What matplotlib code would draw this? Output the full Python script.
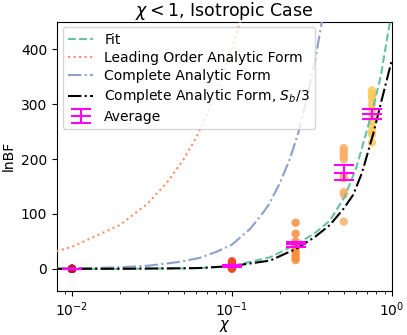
import matplotlib
matplotlib.use("Agg")
import matplotlib.pyplot as plt

# ---------------------------------------------------------------------------
# Data
# ---------------------------------------------------------------------------
chi_groups = [0.01, 0.1, 0.25, 0.5, 0.75]
group_colors = ["#c8103c", "#f0462a", "#f98e3c", "#fbae68", "#fdc95a"]
lnbf_samples = [
    [0.0, 0.0, 0.0, 0.0, 0.0, 0.0, 0.0, 0.0, 0.0, 0.0],
    [0.0, 1.0, 2.0, 3.0, 4.0, 6.0, 8.0, 10.0, 12.0, 14.0],
    [84, 64, 50, 45, 40, 35, 30, 25, 20, 16],
    [220, 215, 210, 205, 200, 170, 165, 140, 135, 86],
    [325, 320, 315, 310, 300, 290, 280, 270, 260, 250, 245, 230],
]
avg_lnbf = [0.0, 5.5, 44.5, 175.0, 282.0]
avg_err = [0.3, 1.5, 4.5, 14.0, 8.5]

fit_chi = [0.008, 0.02, 0.05, 0.063, 0.1, 0.173, 0.254, 0.33, 0.41, 0.508,
           0.6, 0.688, 0.75, 0.85, 0.972, 1.0]
fit_lnbf = [0.0, 0.1, 0.8, 1.3, 5, 21, 45, 65, 88, 132, 185, 246, 285, 350,
            450, 475]

lo_chi = [0.008, 0.01, 0.02, 0.03, 0.04, 0.05, 0.06, 0.08, 0.1, 0.115]
lo_lnbf = [32, 40, 80, 120, 160, 200, 240, 320, 400, 460]

ca_chi = [0.008, 0.01, 0.014, 0.02, 0.03, 0.047, 0.063, 0.08, 0.1, 0.129,
          0.15, 0.17, 0.2, 0.23, 0.26, 0.293, 0.33, 0.375]
ca_lnbf = [0.5, 0.8, 1.5, 2.8, 5.7, 12.6, 20, 31, 44, 72, 95, 117, 157, 200,
           248, 310, 378, 470]

sb3_chi = [0.008, 0.02, 0.05, 0.063, 0.1, 0.173, 0.254, 0.33, 0.41, 0.5,
           0.573, 0.65, 0.764, 0.85, 1.0]
sb3_lnbf = [0.0, 0.1, 1.0, 1.5, 5, 15, 37, 58, 80, 110, 135, 175, 246, 300,
            381]

# ---------------------------------------------------------------------------
# Plot
# ---------------------------------------------------------------------------
fig = plt.figure(figsize=(4.07, 3.35), dpi=100)
ax = fig.add_axes([0.140, 0.132, 0.823, 0.803])

for c, vals, col in zip(chi_groups, lnbf_samples, group_colors):
    ax.scatter([c] * len(vals), vals, s=36, color=col, alpha=0.85,
               edgecolors="none", zorder=2)

ax.plot(fit_chi, fit_lnbf, "--", color="#66c2a5", lw=1.5, label="Fit",
        zorder=3)
ax.plot(lo_chi, lo_lnbf, ":", color="#fc8d62", lw=1.5,
        label="Leading Order Analytic Form", zorder=3)
ax.plot(ca_chi, ca_lnbf, "-.", color="#8da0cb", lw=1.5,
        label="Complete Analytic Form", zorder=3)
ax.plot(sb3_chi, sb3_lnbf, "-.", color="black", lw=1.5,
        label=r"Complete Analytic Form, $S_b/3$", zorder=3)
ax.errorbar(chi_groups, avg_lnbf, yerr=avg_err, fmt="_", color="magenta",
            ms=14, mew=1.5, capsize=7, elinewidth=1.5, capthick=1.5,
            label="Average", zorder=4)

ax.set_xscale("log")
ax.set_xlim(0.00806, 1.0)
ax.set_ylim(-40, 450)
ax.set_yticks([0, 100, 200, 300, 400])
ax.tick_params(labelsize=10)
ax.set_xlabel(r"$\chi$", fontsize=10.5)
ax.xaxis.set_label_coords(0.5, -0.102)
ax.set_ylabel("lnBF", fontsize=10)
ax.set_title(r"$\chi<1$, Isotropic Case", fontsize=12.5, pad=1)
ax.legend(loc="upper left", fontsize=10, handlelength=1.8,
          labelspacing=0.3, borderaxespad=0.4)

fig.savefig("out.png", dpi=100)
